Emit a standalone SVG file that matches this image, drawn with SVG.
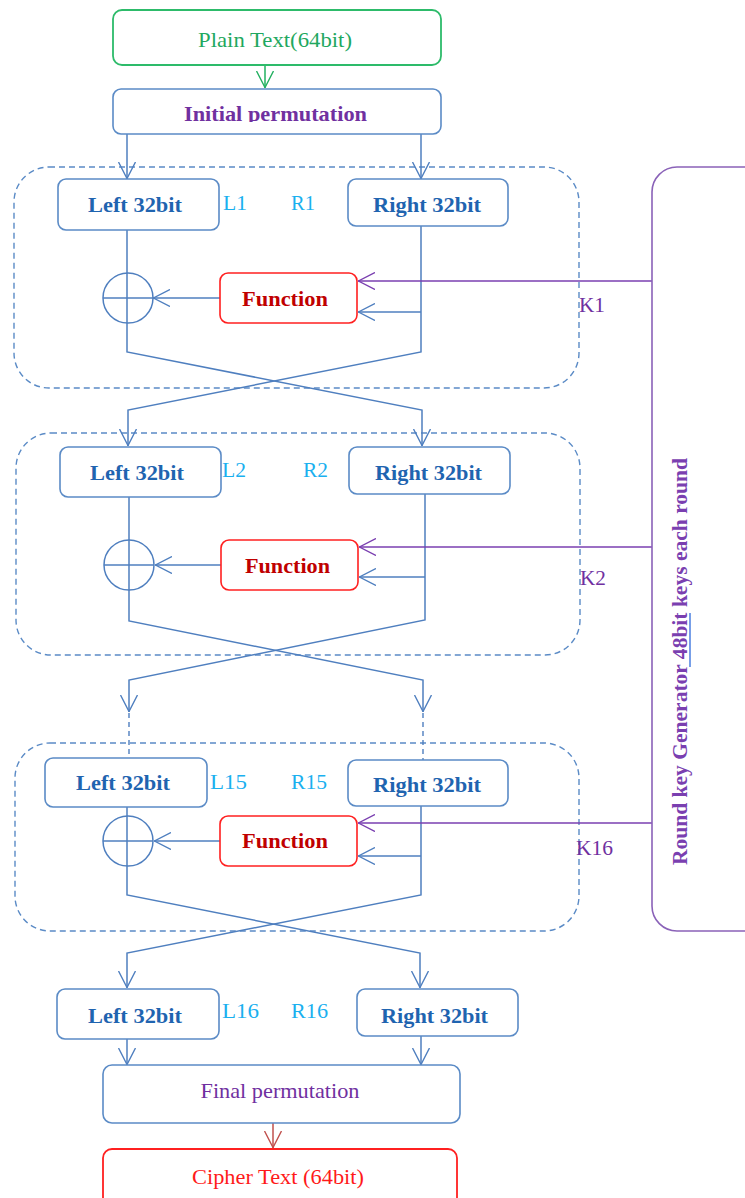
<svg xmlns="http://www.w3.org/2000/svg" width="745" height="1198" viewBox="0 0 745 1198">
<style>
text{font-family:"Liberation Serif","Times New Roman",serif}
.box{fill:#fff;stroke:#5b8bc6;stroke-width:1.6}
.cont{fill:none;stroke:#5b8bc6;stroke-width:1.4;stroke-dasharray:6,4}
.fn{fill:#fff;stroke:#ff2020;stroke-width:1.6}
.ln{fill:none;stroke:#4f7fbf;stroke-width:1.5}
.dl{fill:none;stroke:#4f7fbf;stroke-width:1.4;stroke-dasharray:5,4}
.pl{fill:none;stroke:#7a3fb0;stroke-width:1.6}
.lr{font-size:22px;font-weight:bold;fill:#1f64b0;text-anchor:middle}
.lab{font-size:20px;fill:#1ab0ef}
.ft{font-size:22px;font-weight:bold;fill:#c00000;text-anchor:middle}
.k{font-size:20px;fill:#7030a0}
</style>
<defs>
<marker id="ab" viewBox="0 0 17 18" refX="17" refY="9" markerWidth="17" markerHeight="18" markerUnits="userSpaceOnUse" orient="auto"><path d="M0,0.5 L16.5,9 L0,17.5" fill="none" stroke="#4f7fbf" stroke-width="1.4"/></marker>
<marker id="ap" viewBox="0 0 17 18" refX="17" refY="9" markerWidth="17" markerHeight="18" markerUnits="userSpaceOnUse" orient="auto"><path d="M0,0.5 L16.5,9 L0,17.5" fill="none" stroke="#7a3fb0" stroke-width="1.4"/></marker>
<marker id="ag" viewBox="0 0 17 18" refX="17" refY="9" markerWidth="17" markerHeight="18" markerUnits="userSpaceOnUse" orient="auto"><path d="M0,0.5 L16.5,9 L0,17.5" fill="none" stroke="#22b060" stroke-width="1.4"/></marker>
<marker id="ar" viewBox="0 0 17 18" refX="17" refY="9" markerWidth="17" markerHeight="18" markerUnits="userSpaceOnUse" orient="auto"><path d="M0,0.5 L16.5,9 L0,17.5" fill="none" stroke="#c0504d" stroke-width="1.4"/></marker>
<clipPath id="clipIP"><rect x="113" y="89" width="330" height="33"/></clipPath>
</defs>

<g id="round1-container"><rect class="cont" x="14" y="167" width="565" height="221" rx="35"/></g>
<g id="round2-container"><rect class="cont" x="16" y="433" width="564" height="222" rx="35"/></g>
<g id="round15-container"><rect class="cont" x="15" y="743" width="564" height="188" rx="35"/></g>

<g id="connectors">
<path d="M265,65 V88" fill="none" stroke="#22b060" stroke-width="1.5" marker-end="url(#ag)"/>
<path class="ln" d="M127,134 V179" marker-end="url(#ab)"/>
<path class="ln" d="M421,134 V179" marker-end="url(#ab)"/>
<!-- round 1 -->
<path class="ln" d="M127,230 V352 L422,410 V446" marker-end="url(#ab)"/>
<path class="ln" d="M421,226 V352 L128,410 V446" marker-end="url(#ab)"/>
<path class="ln" d="M220,298 H153" marker-end="url(#ab)"/>
<path class="ln" d="M421,312 H358" marker-end="url(#ab)"/>
<path class="pl" d="M652,281 H358" marker-end="url(#ap)"/>
<!-- round 2 -->
<path class="ln" d="M129,497 V621 L423,680 V712" marker-end="url(#ab)"/>
<path class="ln" d="M425,494 V620 L129,680 V712" marker-end="url(#ab)"/>
<path class="dl" d="M129,713 V758"/>
<path class="dl" d="M423,713 V760"/>
<path class="ln" d="M221,565 H155" marker-end="url(#ab)"/>
<path class="ln" d="M425,577 H359" marker-end="url(#ab)"/>
<path class="pl" d="M652,547 H359" marker-end="url(#ap)"/>
<!-- round 15 -->
<path class="ln" d="M127,807 V895 L420,953 V988" marker-end="url(#ab)"/>
<path class="ln" d="M421,806 V895 L127,953 V988" marker-end="url(#ab)"/>
<path class="ln" d="M220,841 H154" marker-end="url(#ab)"/>
<path class="ln" d="M421,856 H358" marker-end="url(#ab)"/>
<path class="pl" d="M652,823 H358" marker-end="url(#ap)"/>
<!-- round 16 -->
<path class="ln" d="M127,1039 V1065" marker-end="url(#ab)"/>
<path class="ln" d="M421,1036 V1065" marker-end="url(#ab)"/>
<path d="M273,1123 V1148" fill="none" stroke="#c0504d" stroke-width="1.5" marker-end="url(#ar)"/>
</g>

<g id="plain-text"><rect x="113" y="10" width="328" height="55" rx="9" fill="#fff" stroke="#2dbb6a" stroke-width="1.8"/>
<text x="275" y="47" font-size="21" fill="#1fa860" text-anchor="middle" textLength="154" lengthAdjust="spacingAndGlyphs">Plain Text(64bit)</text></g>

<g id="initial-permutation"><rect class="box" x="113" y="89" width="328" height="45" rx="8"/>
<text x="275.5" y="121" font-size="22" font-weight="bold" fill="#7030a0" text-anchor="middle" textLength="183" lengthAdjust="spacingAndGlyphs" clip-path="url(#clipIP)">Initial permutation</text></g>

<!-- Round 1 -->
<g id="r1-left"><rect class="box" x="58" y="179" width="161" height="51" rx="8"/><text class="lr" x="135" y="212" textLength="94" lengthAdjust="spacingAndGlyphs">Left 32bit</text></g>
<g id="r1-right"><rect class="box" x="348" y="179" width="160" height="47" rx="8"/><text class="lr" x="427" y="212" textLength="108" lengthAdjust="spacingAndGlyphs">Right 32bit</text></g>
<g id="r1-labels"><text class="lab" x="223" y="210" textLength="24" lengthAdjust="spacingAndGlyphs">L1</text><text class="lab" x="291" y="210" textLength="24" lengthAdjust="spacingAndGlyphs">R1</text></g>
<g id="r1-xor"><circle cx="128" cy="298" r="25" fill="none" stroke="#4f7fbf" stroke-width="1.5"/><path class="ln" d="M103,298 H153"/></g>
<g id="r1-function"><rect class="fn" x="220" y="273" width="137" height="50" rx="8"/><text class="ft" x="285" y="306" textLength="86" lengthAdjust="spacingAndGlyphs">Function</text></g>
<g id="k1"><text class="k" x="579" y="312" textLength="26" lengthAdjust="spacingAndGlyphs">K1</text></g>

<!-- Round 2 -->
<g id="r2-left"><rect class="box" x="60" y="447" width="161" height="50" rx="8"/><text class="lr" x="137" y="480" textLength="94" lengthAdjust="spacingAndGlyphs">Left 32bit</text></g>
<g id="r2-right"><rect class="box" x="349" y="447" width="161" height="47" rx="8"/><text class="lr" x="428.5" y="480" textLength="107" lengthAdjust="spacingAndGlyphs">Right 32bit</text></g>
<g id="r2-labels"><text class="lab" x="222" y="477" textLength="24" lengthAdjust="spacingAndGlyphs">L2</text><text class="lab" x="303" y="477" textLength="25" lengthAdjust="spacingAndGlyphs">R2</text></g>
<g id="r2-xor"><circle cx="129" cy="565" r="25" fill="none" stroke="#4f7fbf" stroke-width="1.5"/><path class="ln" d="M104,565 H154"/></g>
<g id="r2-function"><rect class="fn" x="221" y="540" width="137" height="50" rx="8"/><text class="ft" x="287.5" y="573" textLength="85" lengthAdjust="spacingAndGlyphs">Function</text></g>
<g id="k2"><text class="k" x="580" y="585" textLength="26" lengthAdjust="spacingAndGlyphs">K2</text></g>

<!-- Round 15 -->
<g id="r15-left"><rect class="box" x="45" y="758" width="162" height="49" rx="8"/><text class="lr" x="123" y="790" textLength="94" lengthAdjust="spacingAndGlyphs">Left 32bit</text></g>
<g id="r15-right"><rect class="box" x="348" y="760" width="160" height="46" rx="8"/><text class="lr" x="427" y="792" textLength="108" lengthAdjust="spacingAndGlyphs">Right 32bit</text></g>
<g id="r15-labels"><text class="lab" x="210" y="789" textLength="37" lengthAdjust="spacingAndGlyphs">L15</text><text class="lab" x="291" y="789" textLength="36" lengthAdjust="spacingAndGlyphs">R15</text></g>
<g id="r15-xor"><circle cx="128" cy="841" r="25" fill="none" stroke="#4f7fbf" stroke-width="1.5"/><path class="ln" d="M103,841 H153"/></g>
<g id="r15-function"><rect class="fn" x="220" y="816" width="137" height="50" rx="8"/><text class="ft" x="285" y="848" textLength="86" lengthAdjust="spacingAndGlyphs">Function</text></g>
<g id="k16"><text class="k" x="576" y="855" textLength="37" lengthAdjust="spacingAndGlyphs">K16</text></g>

<!-- Round 16 -->
<g id="r16-left"><rect class="box" x="57" y="989" width="162" height="50" rx="8"/><text class="lr" x="135" y="1023" textLength="94" lengthAdjust="spacingAndGlyphs">Left 32bit</text></g>
<g id="r16-right"><rect class="box" x="357" y="989" width="161" height="47" rx="8"/><text class="lr" x="434.5" y="1023" textLength="107" lengthAdjust="spacingAndGlyphs">Right 32bit</text></g>
<g id="r16-labels"><text class="lab" x="222" y="1018" textLength="37" lengthAdjust="spacingAndGlyphs">L16</text><text class="lab" x="291" y="1018" textLength="37" lengthAdjust="spacingAndGlyphs">R16</text></g>

<g id="final-permutation"><rect class="box" x="103" y="1065" width="357" height="58" rx="9"/>
<text x="280" y="1098" font-size="21" fill="#7030a0" text-anchor="middle" textLength="159" lengthAdjust="spacingAndGlyphs">Final permutation</text></g>

<g id="cipher-text"><rect x="103" y="1149" width="354" height="70" rx="9" fill="#fff" stroke="#ff2020" stroke-width="1.8"/>
<text x="278" y="1184" font-size="22" fill="#ff1a1a" text-anchor="middle" textLength="172" lengthAdjust="spacingAndGlyphs">Cipher Text (64bit)</text></g>

<g id="key-generator"><rect x="652" y="167" width="130" height="764" rx="25" fill="#fff" stroke="#8a62b8" stroke-width="1.6"/>
<text transform="translate(687,661.5) rotate(-90)" font-size="22" font-weight="bold" fill="#7a3fb0" text-anchor="middle" textLength="407" lengthAdjust="spacingAndGlyphs">Round key Generator 48bit keys each round</text>
<path d="M690,613 V667" stroke="#4a7fe0" stroke-width="1.5" fill="none"/></g>
</svg>
